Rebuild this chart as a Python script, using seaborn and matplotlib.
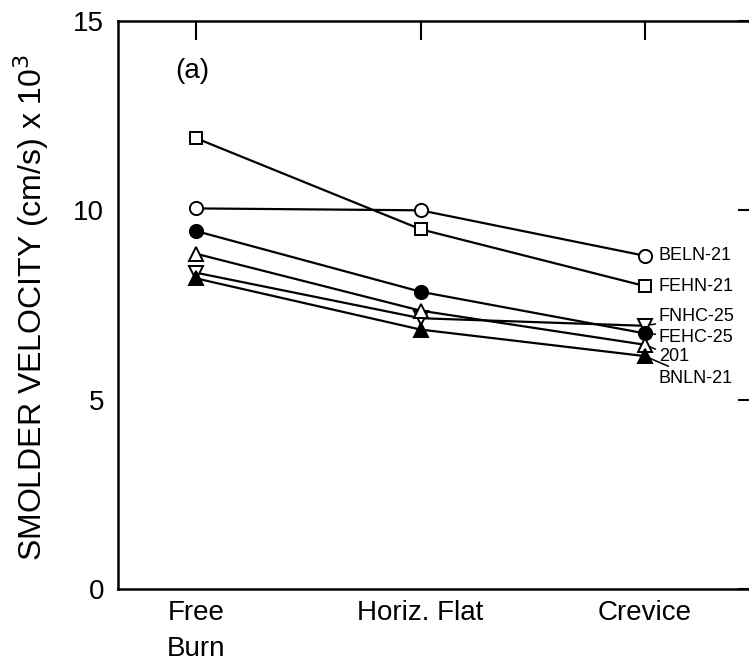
import pandas as pd
import matplotlib.pyplot as plt
import seaborn as sns

# --- DATA ---
CONDITIONS = ["Free\nBurn", "Horiz. Flat", "Crevice"]
BELN_21 = [10.05, 10.0, 8.8]
FEHN_21 = [11.9, 9.5, 8.0]
FNHC_25 = [8.35, 7.15, 6.95]
FEHC_25 = [9.45, 7.85, 6.75]
S_201 = [8.85, 7.35, 6.45]
BNLN_21 = [8.2, 6.85, 6.15]

SERIES = ["BELN-21", "FEHN-21", "FNHC-25", "FEHC-25", "201", "BNLN-21"]
VALUES = [BELN_21, FEHN_21, FNHC_25, FEHC_25, S_201, BNLN_21]

# marker, face colour, label offset (pixels) for each series
STYLES = {
    "BELN-21": ("o", "white", (14, 0)),
    "FEHN-21": ("s", "white", (14, 0)),
    "FNHC-25": ("v", "white", (14, 9)),
    "FEHC-25": ("o", "black", (14, -4)),
    "201": ("^", "white", (14, -12)),
    "BNLN-21": ("^", "black", (14, -22)),
}

rows = []
for name, vals in zip(SERIES, VALUES):
    for i, v in enumerate(vals):
        rows.append({"series": name, "pos": i, "velocity": v})
df = pd.DataFrame(rows)

sns.set_style("white")
plt.rcParams["font.family"] = ["Liberation Sans", "DejaVu Sans"]
plt.rcParams["text.color"] = "black"
plt.rcParams["axes.labelcolor"] = "black"
plt.rcParams["xtick.color"] = "black"
plt.rcParams["ytick.color"] = "black"

fig = plt.figure(figsize=(7.49, 6.64), dpi=100)
ax = fig.add_axes([0.1575, 0.113, 0.853, 0.8554])

for name in SERIES:
    marker, face, offset = STYLES[name]
    sub = df[df["series"] == name]
    sns.lineplot(data=sub, x="pos", y="velocity", ax=ax, color="black",
                 linewidth=1.6, marker=marker, markersize=9.5 if marker != "s" else 9,
                 markerfacecolor=face, markeredgecolor="black", markeredgewidth=1.4,
                 legend=False, zorder=3)
    last = sub[sub["pos"] == sub["pos"].max()]
    x_end, y_end = last["pos"].iloc[0], last["velocity"].iloc[0]
    leader = offset[1] != 0
    ax.annotate(name, xy=(x_end, y_end), xytext=offset, textcoords="offset pixels",
                ha="left", va="center", fontsize=13,
                arrowprops=dict(arrowstyle="-", lw=1.1, color="black",
                                shrinkA=0, shrinkB=4) if leader else None)

ax.set_xlim(-0.35, 2.5)
ax.set_ylim(0, 15)
ax.set_xticks(range(len(CONDITIONS)))
ax.set_xticklabels(CONDITIONS, fontsize=20, linespacing=1.5, va="top")
ax.set_yticks([0, 5, 10, 15])
ax.tick_params(axis="both", direction="in", length=14, width=1.5,
               top=True, right=True, labelsize=20)
ax.tick_params(axis="y", pad=10)
ax.tick_params(axis="x", pad=8)
for sp in ax.spines.values():
    sp.set_linewidth(1.8)
    sp.set_color("black")

ax.set_xlabel("")
ax.set_ylabel(r"SMOLDER VELOCITY (cm/s) x 10$^3$", fontsize=23)
ax.yaxis.set_label_coords(-0.105, 0.495)
ax.text(0.117, 0.912, "(a)", transform=ax.transAxes, fontsize=20, ha="center", va="center")

plt.savefig("out.png", dpi=100)
